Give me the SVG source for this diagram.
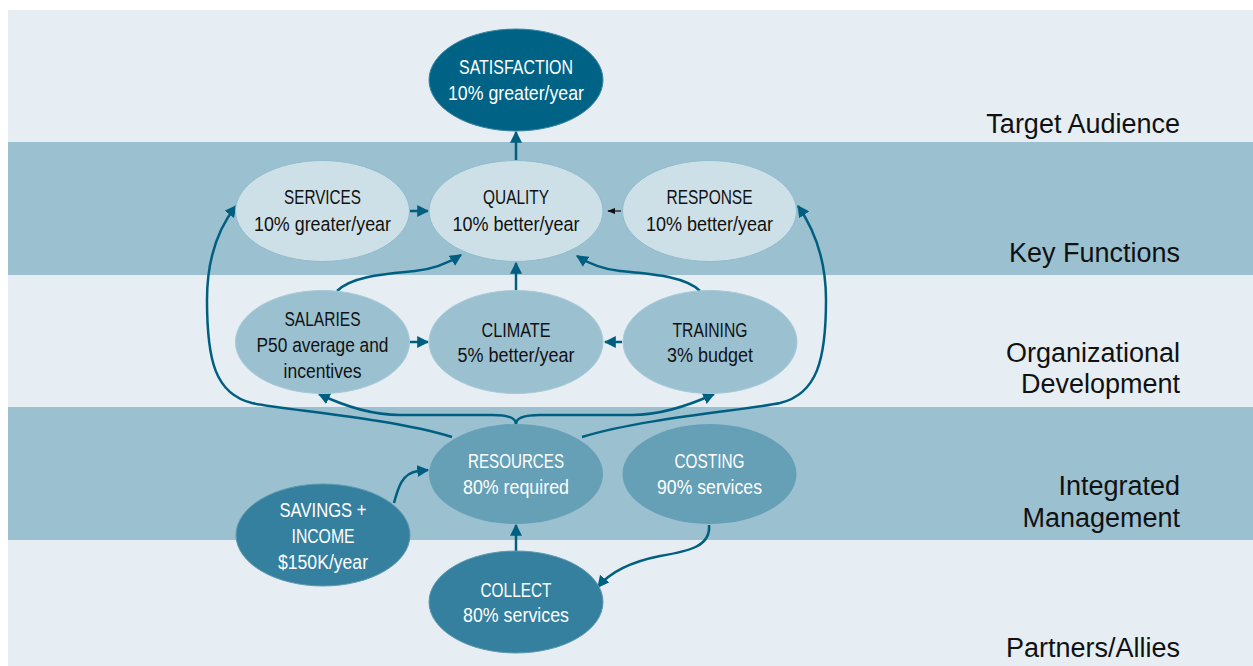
<svg xmlns="http://www.w3.org/2000/svg" width="1253" height="666" viewBox="0 0 1253 666">
<defs>
<marker id="ah" markerUnits="userSpaceOnUse" markerWidth="12" markerHeight="12" viewBox="0 0 10 10" refX="9" refY="5" orient="auto"><path d="M0,0 L10,5 L0,10 Z" fill="#005f80"/></marker>
<marker id="ahs" markerUnits="userSpaceOnUse" markerWidth="8" markerHeight="8" viewBox="0 0 10 10" refX="9" refY="5" orient="auto"><path d="M0,1 L10,5 L0,9 Z" fill="#111"/></marker>
</defs>
<style>
.bl{fill:#e6eef4}.bd{fill:#9bc0cf}
.lab{font-family:"Liberation Sans",Arial,sans-serif;font-size:27px;fill:#111;text-anchor:end}
.nt{font-family:"Liberation Sans Narrow","Arial Narrow","Liberation Sans",sans-serif;font-size:20.5px;text-anchor:middle}
.dk{fill:#111}.wt{fill:#fff}
.n1{fill:#cde0e7;stroke:#8fbccd;stroke-width:1}
.n2{fill:#9bc1d1;stroke:#a7c9d7;stroke-width:1}
.n3{fill:#66a0b6}
.n4{fill:#35809e;stroke:#5d99b1;stroke-width:1}
.n5{fill:#006385;stroke:#3a86a2;stroke-width:1}
.c{fill:none;stroke:#005f80;stroke-width:2.5;marker-end:url(#ah)}
.cs{fill:none;stroke:#111;stroke-width:1.2;marker-end:url(#ahs)}
</style>
<g id="bands">
<rect x="8" y="10" width="1245" height="132" class="bl"/>
<rect x="8" y="142" width="1245" height="133" class="bd"/>
<rect x="8" y="275" width="1245" height="132" class="bl"/>
<rect x="8" y="407" width="1245" height="133" class="bd"/>
<rect x="8" y="540" width="1245" height="126" class="bl"/>
</g>
<g id="band-labels">
<text class="lab" x="1180" y="133">Target Audience</text>
<text class="lab" x="1180" y="262">Key Functions</text>
<text class="lab" x="1180" y="362">Organizational</text>
<text class="lab" x="1180" y="393">Development</text>
<text class="lab" x="1180" y="495">Integrated</text>
<text class="lab" x="1180" y="527">Management</text>
<text class="lab" x="1180" y="657">Partners/Allies</text>
</g>
<g id="connectors">
<path class="c" d="M516,160 L516,132"/>
<path class="c" d="M410,211 L428,211"/>
<path class="cs" d="M621,211 L608,211"/>
<path class="c" d="M516,291 L516,263"/>
<path class="c" d="M337,291 C352,276 385,274 415,271 C435,269 450,262 461,255"/>
<path class="c" d="M700,291 C685,276 650,274 620,271 C600,269 588,263 577,256"/>
<path class="c" d="M410,342 L428,342"/>
<path class="c" d="M622,342 L605,342"/>
<path class="c" d="M516,424 C516,417 506,415 492,415 L400,415 C370,415 342,405 319,394"/>
<path class="c" d="M516,424 C516,417 526,415 540,415 L632,415 C662,415 690,405 714,394"/>
<path class="c" d="M452,437 C390,418 285,410 252,403 C215,394 207,360 207,300 C207,256 220,226 236,206"/>
<path class="c" d="M582,437 C644,418 748,410 780,403 C817,394 826,360 826,300 C826,256 812,226 798,206"/>
<path class="c" d="M394,503 C398,488 402,473 418,471 L428,470"/>
<path class="c" d="M516,552 L516,525"/>
<path class="c" d="M709,525 C711,546 690,551 660,556 C630,562 610,572 598,587"/>
</g>
<g id="satisfaction"><ellipse cx="516" cy="80" rx="87" ry="51" class="n5"/><text class="nt wt" x="516" y="74" textLength="114" lengthAdjust="spacingAndGlyphs">SATISFACTION</text><text class="nt wt" x="516" y="100" textLength="136" lengthAdjust="spacingAndGlyphs">10% greater/year</text></g>
<g id="services"><ellipse cx="322.5" cy="211" rx="87" ry="50.5" class="n1"/><text class="nt dk" x="322.5" y="204" textLength="77" lengthAdjust="spacingAndGlyphs">SERVICES</text><text class="nt dk" x="322.5" y="230.5" textLength="137" lengthAdjust="spacingAndGlyphs">10% greater/year</text></g>
<g id="quality"><ellipse cx="516" cy="211" rx="87" ry="50.5" class="n1"/><text class="nt dk" x="516" y="204" textLength="66" lengthAdjust="spacingAndGlyphs">QUALITY</text><text class="nt dk" x="516" y="230.5" textLength="127" lengthAdjust="spacingAndGlyphs">10% better/year</text></g>
<g id="response"><ellipse cx="709.5" cy="211" rx="87" ry="50.5" class="n1"/><text class="nt dk" x="709.5" y="204" textLength="86" lengthAdjust="spacingAndGlyphs">RESPONSE</text><text class="nt dk" x="709.5" y="230.5" textLength="127" lengthAdjust="spacingAndGlyphs">10% better/year</text></g>
<g id="salaries"><ellipse cx="322.5" cy="342" rx="87" ry="51.5" class="n2"/><text class="nt dk" x="322.5" y="326" textLength="76" lengthAdjust="spacingAndGlyphs">SALARIES</text><text class="nt dk" x="322.5" y="352" textLength="132" lengthAdjust="spacingAndGlyphs">P50 average and</text><text class="nt dk" x="322.5" y="377.5" textLength="78" lengthAdjust="spacingAndGlyphs">incentives</text></g>
<g id="climate"><ellipse cx="516" cy="342" rx="87" ry="51.5" class="n2"/><text class="nt dk" x="516" y="336.5" textLength="69" lengthAdjust="spacingAndGlyphs">CLIMATE</text><text class="nt dk" x="516" y="362" textLength="117" lengthAdjust="spacingAndGlyphs">5% better/year</text></g>
<g id="training"><ellipse cx="710" cy="342" rx="87" ry="51.5" class="n2"/><text class="nt dk" x="710" y="336.5" textLength="75" lengthAdjust="spacingAndGlyphs">TRAINING</text><text class="nt dk" x="710" y="362" textLength="86" lengthAdjust="spacingAndGlyphs">3% budget</text></g>
<g id="resources"><ellipse cx="516" cy="474" rx="87" ry="50" class="n3"/><text class="nt wt" x="516" y="468" textLength="96" lengthAdjust="spacingAndGlyphs">RESOURCES</text><text class="nt wt" x="516" y="494" textLength="106" lengthAdjust="spacingAndGlyphs">80% required</text></g>
<g id="costing"><ellipse cx="709.5" cy="474" rx="87" ry="50" class="n3"/><text class="nt wt" x="709.5" y="468" textLength="70" lengthAdjust="spacingAndGlyphs">COSTING</text><text class="nt wt" x="709.5" y="494" textLength="105" lengthAdjust="spacingAndGlyphs">90% services</text></g>
<g id="savings"><ellipse cx="323" cy="535" rx="87" ry="51" class="n4"/><text class="nt wt" x="323" y="517" textLength="87" lengthAdjust="spacingAndGlyphs">SAVINGS +</text><text class="nt wt" x="323" y="543" textLength="63" lengthAdjust="spacingAndGlyphs">INCOME</text><text class="nt wt" x="323" y="569" textLength="90" lengthAdjust="spacingAndGlyphs">$150K/year</text></g>
<g id="collect"><ellipse cx="516" cy="602" rx="87" ry="51" class="n4"/><text class="nt wt" x="516" y="596.5" textLength="71" lengthAdjust="spacingAndGlyphs">COLLECT</text><text class="nt wt" x="516" y="621.5" textLength="106" lengthAdjust="spacingAndGlyphs">80% services</text></g>
</svg>
